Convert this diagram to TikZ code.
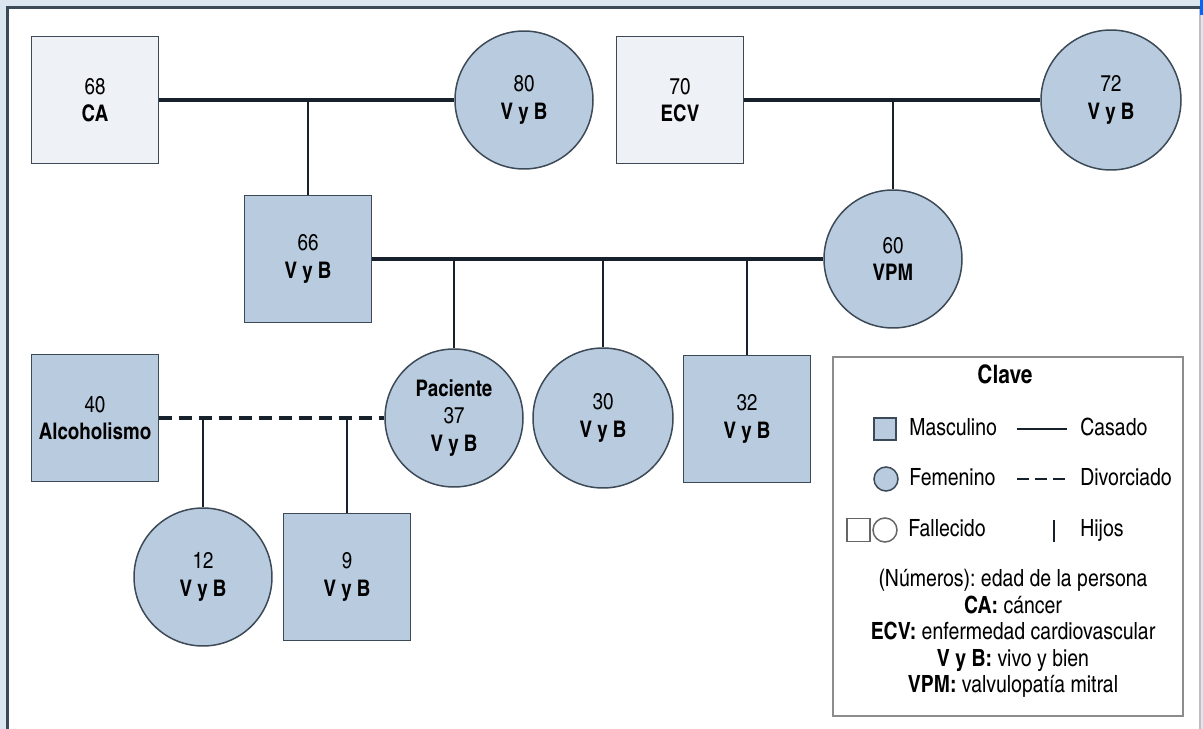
\documentclass[tikz,border=0pt]{standalone}
\usepackage{fontspec}
\setmainfont{texgyreheroscn}[Extension=.otf, UprightFont=*-regular, BoldFont=*-bold]
\usetikzlibrary{calc}
\definecolor{fondo}{HTML}{DCE6F0}
\definecolor{azul}{HTML}{B9CBDE}
\definecolor{claro}{HTML}{EEF2F7}
\definecolor{borde}{HTML}{3C4956}
\definecolor{linea}{HTML}{17212B}
\tikzset{
	varon/.style={draw=borde, line width=0.85pt, fill=azul, minimum size=2.54cm, inner sep=0pt, align=center, font=\fontsize{13}{15.5}\selectfont},
	mujer/.style={circle, draw=borde, line width=0.85pt, fill=azul, minimum size=2.76cm, inner sep=0pt, align=center, font=\fontsize{13}{15.5}\selectfont},
	fallecido/.style={fill=claro},
	casado/.style={line width=2.3pt, color=linea},
	divorciado/.style={casado, dash pattern=on 0.26cm off 0.14cm},
	hijo/.style={line width=1.4pt, color=linea},
	clave/.style={font=\fontsize{13.5}{16}\selectfont\frenchspacing, inner sep=0pt, text height=0.72em, text depth=0pt}
}

\begin{document}
\begin{tikzpicture}
		%%%%% START %%%%%
		
		\fill[fondo] (0, 0) rectangle (24.06, -14.58);
		\useasboundingbox (0, 0) rectangle (24.06, -14.58);
		\fill[white] (0.15, -0.15) rectangle (24.0, -14.7);
		\draw[line width=0.9pt, color=black!25] (24.0, -0.15) -- (24.0, -14.58);
		\draw[line width=1.4pt, color=borde] (0.15, -14.58) -- (0.15, -0.15) -- (24.0, -0.15);
		\fill[blue!60!cyan] (24.0, 0) rectangle (24.06, -0.3);
		
		% abuelos
		\node[varon, fallecido] (ca) at (1.9, -2.0) {68\\\textbf{CA}};
		\node[mujer] (f80) at (10.48, -2.0) {80\\\textbf{V y B}};
		\node[varon, fallecido] (ecv) at (13.6, -2.0) {70\\\textbf{ECV}};
		\node[mujer, minimum size=2.8cm] (f72) at (22.22, -2.0) {72\\\textbf{V y B}};
		
		% padres
		\node[varon] (p66) at (6.16, -5.18) {66\\\textbf{V y B}};
		\node[mujer] (f60) at (17.86, -5.18) {60\\\textbf{VPM}};
		
		% hijos
		\node[varon] (m40) at (1.9, -8.36) {40\\\textbf{Alcoholismo}};
		\node[mujer] (pac) at (9.08, -8.36) {\textbf{Paciente}\\37\\\textbf{V y B}};
		\node[mujer, minimum size=2.8cm] (f30) at (12.06, -8.36) {30\\\textbf{V y B}};
		\node[varon] (m32) at (14.94, -8.38) {32\\\textbf{V y B}};
		
		% nietos
		\node[mujer] (f12) at (4.06, -11.54) {12\\\textbf{V y B}};
		\node[varon] (m9) at (6.94, -11.54) {9\\\textbf{V y B}};
		
		\draw[casado] (ca) -- (f80);
		\draw[hijo] (p66.north) -- (p66.north |- ca.east);
		\draw[casado] (ecv) -- (f72);
		\draw[hijo] (f60.north) -- (f60.north |- ecv.east);
		
		\draw[casado] (p66.east) -- (f60.west |- p66.east);
		\draw[hijo] (pac.north) -- (pac.north |- p66.east);
		\draw[hijo] (f30.north) -- (f30.north |- p66.east);
		\draw[hijo] (m32.north) -- (m32.north |- p66.east);
		
		\draw[divorciado] (m40) -- (pac);
		\draw[hijo] (f12.north) -- (f12.north |- m40.east);
		\draw[hijo] (m9.north) -- (m9.north |- m40.east);
		
		% clave
		\draw[line width=0.9pt, color=black!45] (16.66, -7.14) rectangle (23.66, -14.32);
		\node[clave, font=\fontsize{14.5}{16}\bfseries] (tit) at (20.1, -7.54) {Clave};
		
		\node[varon, minimum size=0.44cm] (icm) at (17.7, -8.58) {};
		\node[clave, anchor=west] (masc) at (18.18, -8.58) {Masculino};
		\coordinate (c1) at (20.34, -8.58);
		\coordinate (c2) at (21.34, -8.58);
		\draw[casado, line width=1.7pt] (c1) -- (c2);
		\node[clave, anchor=west] (cas) at (21.6, -8.58) {Casado};
		
		\node[mujer, minimum size=0.48cm] (icf) at (17.72, -9.58) {};
		\node[clave, anchor=west] (fem) at (18.18, -9.58) {Femenino};
		\coordinate (d1) at (20.34, -9.58);
		\coordinate (d2) at (21.34, -9.58);
		\draw[casado, line width=1.7pt, dash pattern=on 0.24cm off 0.12cm] (d1) -- (d2);
		\node[clave, anchor=west] (div) at (21.6, -9.58) {Divorciado};
		
		\node[varon, fill=white, draw=black!60, minimum size=0.46cm] (ics) at (17.17, -10.6) {};
		\node[mujer, fill=white, draw=black!60, minimum size=0.48cm] (icc) at (17.7, -10.6) {};
		\node[clave, anchor=west] (fal) at (18.16, -10.6) {Fallecido};
		\coordinate (h1) at (21.08, -10.4);
		\coordinate (h2) at (21.08, -10.84);
		\draw[hijo] (h1) -- (h2);
		\node[clave, anchor=west] (hij) at (21.6, -10.6) {Hijos};
		
		\node[clave] (n1) at (20.26, -11.6) {(Números): edad de la persona};
		\node[clave] (n2) at (20.26, -12.14) {\textbf{CA:} cáncer};
		\node[clave] (n3) at (20.26, -12.66) {\textbf{ECV:} enfermedad cardiovascular};
		\node[clave] (n4) at (20.26, -13.2) {\textbf{V y B:} vivo y bien};
		\node[clave] (n5) at (20.26, -13.72) {\textbf{VPM:} valvulopatía mitral};
		
		%%%%% END %%%%%
	\end{tikzpicture}
\end{document}
